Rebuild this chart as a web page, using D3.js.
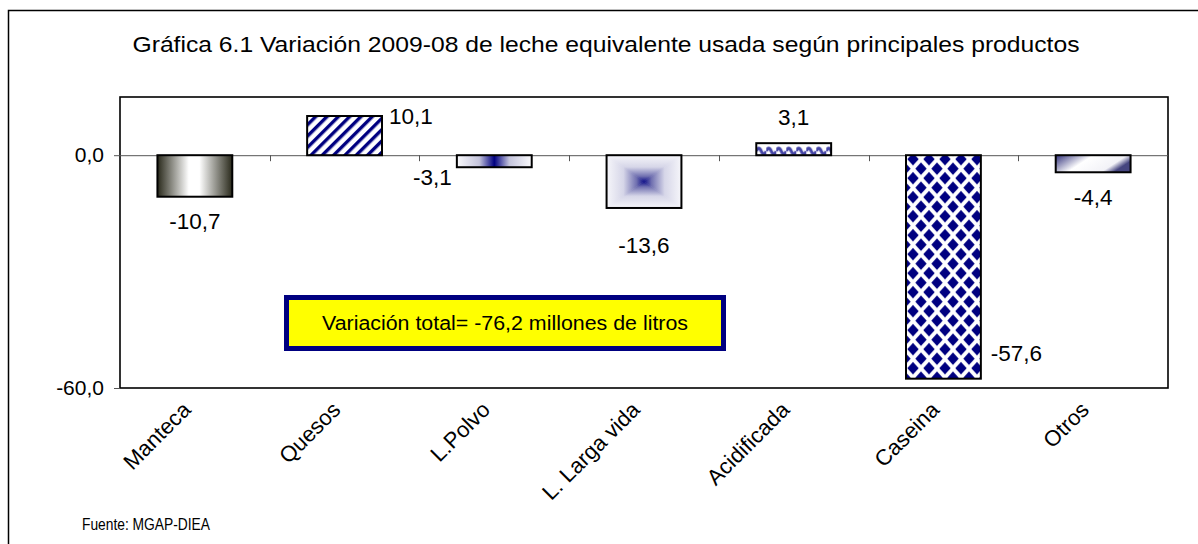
<!DOCTYPE html>
<html>
<head>
<meta charset="utf-8">
<script src="https://cdn.jsdelivr.net/npm/d3@7"></script>
<style>
  body { margin: 0; background: #fff; }
  text { font-family: "Liberation Sans", Arial, sans-serif; fill: #000; }
</style>
</head>
<body>
<svg id="chart" width="1198" height="544"></svg>
<script>
'use strict';

const categories = ['Manteca', 'Quesos', 'L.Polvo', 'L. Larga vida', 'Acidificada', 'Caseina', 'Otros'];
const variation = [-10.7, 10.1, -3.1, -13.6, 3.1, -57.6, -4.4];
const yTicks = [0, -60];
const totalVariation = -76.2;
const chartTitle = 'Gráfica 6.1 Variación 2009-08 de leche equivalente usada según principales productos';
const sourceNote = 'Fuente: MGAP-DIEA';

// value label placement, copied from how the spreadsheet laid them out
const labelPlacement = [
    { at: 'bottom', anchor: 'middle', dx: 0, dy: 24 },
    { at: 'top-right', anchor: 'start', dx: 7, dy: 0 },
    { at: 'bottom-left', anchor: 'end', dx: -5, dy: 10 },
    { at: 'bottom', anchor: 'middle', dx: 0, dy: 37 },
    { at: 'top', anchor: 'middle', dx: 0, dy: -26 },
    { at: 'bottom-right', anchor: 'start', dx: 10, dy: -26 },
    { at: 'bottom', anchor: 'middle', dx: 0, dy: 25 }
];
const barFills = ['url(#fill-manteca)', 'url(#fill-quesos)', 'url(#fill-polvo)', null,
    'url(#fill-acid)', 'url(#fill-caseina)', 'url(#fill-otros)'];

const svg = d3.select('#chart');
const plot = { left: 120, right: 1168, top: 97, bottom: 388 };
const navy = '#000080';

const locale = d3.formatLocale({ decimal: ',', thousands: '.', grouping: [3], currency: ['', ''], minus: '-' });
const fmt = locale.format('.1f');

const x = d3.scaleBand()
    .domain(categories)
    .range([plot.left, plot.right])
    .padding(0);
const barWidth = x.bandwidth() * 0.5;
const y = d3.scaleLinear()
    .domain([-60, 15])
    .range([plot.bottom, plot.top]);

const data = categories.map((c, i) => ({ name: c, value: variation[i], i: i }));

// ---- fills ----
const defs = svg.append('defs');

function linear(id, coords, stops) {
    const g = defs.append('linearGradient').attr('id', id)
        .attr('x1', coords[0]).attr('y1', coords[1]).attr('x2', coords[2]).attr('y2', coords[3]);
    stops.forEach(s => g.append('stop').attr('offset', s[0]).attr('stop-color', s[1]));
    return g;
}

linear('fill-manteca', [0, 0, 1, 0], [[0, '#29291b'], [0.42, '#ffffff'], [0.56, '#ffffff'], [1, '#29291b']]);
linear('fill-polvo', [0, 0, 1, 0], [[0, '#fafafc'], [0.3, '#c4c4dc'], [0.5, navy], [0.7, '#c4c4dc'], [1, '#fafafc']]);
linear('fill-otros', [0, 0, 1, 0.35], [[0, '#30307a'], [0.45, '#ffffff'], [0.85, '#f2f2f7'], [1, '#45457f']]);

const stripes = defs.append('pattern')
    .attr('id', 'fill-quesos')
    .attr('patternUnits', 'userSpaceOnUse')
    .attr('width', 8).attr('height', 8)
    .attr('patternTransform', 'rotate(45)');
stripes.append('rect').attr('width', 8).attr('height', 8).attr('fill', '#fff');
stripes.append('rect').attr('width', 3.4).attr('height', 8).attr('fill', navy);

const acidTop = y(variation[4]);
const wave = defs.append('pattern')
    .attr('id', 'fill-acid')
    .attr('patternUnits', 'userSpaceOnUse')
    .attr('x', x(categories[4]) + (x.bandwidth() - barWidth) / 2)
    .attr('y', acidTop)
    .attr('width', 10).attr('height', 40);
wave.append('rect').attr('width', 10).attr('height', 40).attr('fill', '#fff');
wave.append('path')
    .attr('d', 'M0,8 Q2.5,2 5,8 T10,8')
    .attr('fill', 'none')
    .attr('stroke', '#4444a6')
    .attr('stroke-width', 3.2);
wave.append('path')
    .attr('d', 'M0,12.5 L10,12.5')
    .attr('stroke', '#6a6abb')
    .attr('stroke-width', 1.5);

const diamonds = defs.append('pattern')
    .attr('id', 'fill-caseina')
    .attr('patternUnits', 'userSpaceOnUse')
    .attr('x', x(categories[5]) + (x.bandwidth() - barWidth) / 2 + 7)
    .attr('y', y(0) + 4)
    .attr('width', 16).attr('height', 19);
diamonds.append('rect').attr('width', 16).attr('height', 19).attr('fill', '#fff');
[[0, 0], [16, 0], [0, 19], [16, 19], [8, 9.5]].forEach(p => {
    diamonds.append('path')
        .attr('d', `M${p[0]},${p[1] - 6.2} L${p[0] + 5.7},${p[1]} L${p[0]},${p[1] + 6.2} L${p[0] - 5.7},${p[1]} Z`)
        .attr('fill', navy);
});

// ---- frame ----
svg.append('rect')
    .attr('x', 8.5).attr('y', 10.5)
    .attr('width', 1400).attr('height', 800)
    .attr('fill', 'none')
    .attr('stroke', '#000')
    .attr('stroke-width', 1.5);

svg.append('text')
    .attr('x', 606).attr('y', 52)
    .attr('text-anchor', 'middle')
    .attr('font-size', 22)
    .attr('textLength', 947)
    .attr('lengthAdjust', 'spacingAndGlyphs')
    .text(chartTitle);

svg.append('rect')
    .attr('x', plot.left).attr('y', plot.top)
    .attr('width', plot.right - plot.left)
    .attr('height', plot.bottom - plot.top)
    .attr('fill', '#fff')
    .attr('stroke', '#000')
    .attr('stroke-width', 1.6);

// ---- axes ----
const yAxis = svg.append('g')
    .attr('transform', `translate(${plot.left},0)`)
    .call(d3.axisLeft(y).tickValues(yTicks).tickSize(6).tickPadding(10).tickFormat(fmt));
yAxis.select('.domain').remove();
yAxis.selectAll('.tick line').attr('stroke', '#555');
yAxis.selectAll('.tick text')
    .attr('font-size', 21)
    .attr('font-family', '"Liberation Sans", Arial, sans-serif');

svg.append('line')
    .attr('x1', plot.left).attr('x2', plot.right)
    .attr('y1', y(0) + 0.5).attr('y2', y(0) + 0.5)
    .attr('stroke', '#555');

svg.append('g')
    .selectAll('line')
    .data(categories.slice(1))
    .join('line')
    .attr('x1', d => Math.round(x(d)) + 0.5)
    .attr('x2', d => Math.round(x(d)) + 0.5)
    .attr('y1', y(0))
    .attr('y2', y(0) + 6)
    .attr('stroke', '#555');

svg.append('g')
    .selectAll('text')
    .data(categories)
    .join('text')
    .attr('transform', d => `translate(${x(d) + x.bandwidth() / 2 - 14},400) rotate(-45)`)
    .attr('text-anchor', 'end')
    .attr('dy', '0.72em')
    .attr('font-size', 22)
    .text(d => d);

// ---- bars ----
const bars = svg.append('g');

bars.selectAll('rect')
    .data(data.filter(d => barFills[d.i]))
    .join('rect')
    .attr('x', d => x(d.name) + (x.bandwidth() - barWidth) / 2)
    .attr('y', d => y(Math.max(0, d.value)))
    .attr('width', barWidth)
    .attr('height', d => Math.abs(y(d.value) - y(0)))
    .attr('fill', d => barFills[d.i])
    .attr('stroke', '#000')
    .attr('stroke-width', 2);

// L. Larga vida: rectangular gradient from the centre, built out of four triangles
(function pyramidBar(d) {
    const x0 = x(d.name) + (x.bandwidth() - barWidth) / 2;
    const x1 = x0 + barWidth;
    const y0 = y(0);
    const y1 = y(d.value);
    const cx = (x0 + x1) / 2;
    const cy = (y0 + y1) / 2;
    const stops = [[0, '#f6f6fa'], [0.45, '#d6d6e8'], [0.8, '#7070b0'], [1, '#101088']];
    const sides = [
        { id: 'pyr-top', pts: [[x0, y0], [x1, y0], [cx, cy]], g: [cx, y0, cx, cy] },
        { id: 'pyr-bottom', pts: [[x0, y1], [x1, y1], [cx, cy]], g: [cx, y1, cx, cy] },
        { id: 'pyr-left', pts: [[x0, y0], [x0, y1], [cx, cy]], g: [x0, cy, cx, cy] },
        { id: 'pyr-right', pts: [[x1, y0], [x1, y1], [cx, cy]], g: [x1, cy, cx, cy] }
    ];
    sides.forEach(s => {
        linear(s.id, s.g, stops).attr('gradientUnits', 'userSpaceOnUse');
        bars.append('polygon')
            .attr('points', s.pts.map(p => p.join(',')).join(' '))
            .attr('fill', `url(#${s.id})`)
            .attr('stroke', `url(#${s.id})`)
            .attr('stroke-width', 0.6);
    });
    bars.append('rect')
        .attr('x', x0).attr('y', y0)
        .attr('width', barWidth).attr('height', y1 - y0)
        .attr('fill', 'none')
        .attr('stroke', '#000')
        .attr('stroke-width', 2);
})(data[3]);

// ---- value labels ----
svg.append('g')
    .selectAll('text')
    .data(data)
    .join('text')
    .each(function (d) {
        const p = labelPlacement[d.i];
        const left = x(d.name) + (x.bandwidth() - barWidth) / 2;
        const top = y(Math.max(0, d.value));
        const bottom = y(Math.min(0, d.value));
        let px = left + barWidth / 2;
        if (p.at.includes('left')) px = left;
        if (p.at.includes('right')) px = left + barWidth;
        const py = p.at.startsWith('top') ? top : bottom;
        d3.select(this)
            .attr('x', px + p.dx)
            .attr('y', py + p.dy)
            .attr('dy', '0.35em')
            .attr('text-anchor', p.anchor);
    })
    .attr('font-size', 22.5)
    .text(d => fmt(d.value));

// ---- total note ----
svg.append('rect')
    .attr('x', 286.5).attr('y', 297.5)
    .attr('width', 437).attr('height', 51)
    .attr('fill', '#ffff00')
    .attr('stroke', navy)
    .attr('stroke-width', 5);

svg.append('text')
    .attr('x', 505).attr('y', 323)
    .attr('dy', '0.35em')
    .attr('text-anchor', 'middle')
    .attr('font-size', 20)
    .attr('textLength', 366)
    .attr('lengthAdjust', 'spacingAndGlyphs')
    .text(`Variación total= ${fmt(totalVariation)} millones de litros`);

svg.append('text')
    .attr('x', 82).attr('y', 530)
    .attr('font-size', 17)
    .attr('textLength', 128)
    .attr('lengthAdjust', 'spacingAndGlyphs')
    .text(sourceNote);
</script>
</body>
</html>
